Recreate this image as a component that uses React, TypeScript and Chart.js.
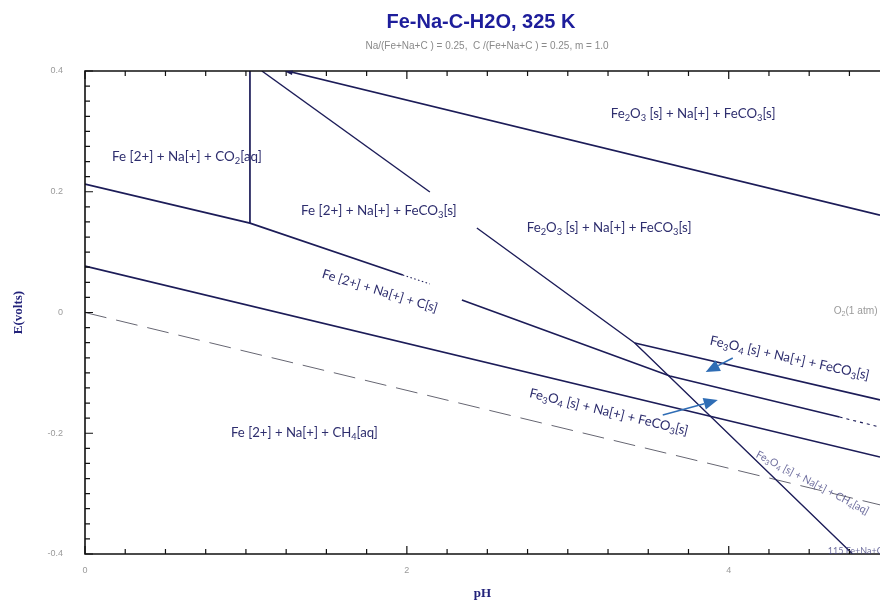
import React, { useEffect, useRef } from "react";
import { Chart, registerables } from "chart.js";

Chart.register(...registerables);

// ---- axes ----
const X_MIN = 0;
const X_MAX = 4.94;
const Y_MIN = -0.4;
const Y_MAX = 0.4;
const X_LABEL_TICKS = [0, 2, 4];
const Y_LABEL_TICKS = [-0.4, -0.2, 0, 0.2, 0.4];

// ---- boundary lines (pH, E in volts) ----
const fe2o3TopPH = [1.255, 4.94];
const fe2o3TopE = [0.4, 0.1613];
const co2VerticalPH = [1.025, 1.025];
const co2VerticalE = [0.4, 0.148];
const carbonPH = [0, 1.025, 1.975];
const carbonE = [0.2128, 0.148, 0.0621];
const carbonDotPH = [1.975, 2.143];
const carbonDotE = [0.0621, 0.0472];
const carbon2PH = [2.342, 3.634, 4.689];
const carbon2E = [0.0207, -0.1052, -0.1731];
const carbonTailPH = [4.689, 4.94];
const carbonTailE = [-0.1731, -0.1899];
const methanePH = [0, 4.94];
const methaneE = [0.077, -0.2394];
const ironUpperPH = [1.099, 2.143];
const ironUpperE = [0.4, 0.1996];
const ironLowerPH = [2.435, 3.416, 4.77];
const ironLowerE = [0.14, -0.0505, -0.4];
const magnetitePH = [3.416, 4.94];
const magnetiteE = [-0.0505, -0.1449];
const waterPH = [0, 4.94];
const waterE = [0, -0.3186];

// ---- region labels ----
const regionTexts = [
  "Fe [2+] + Na[+] + CO_2[aq]",
  "Fe [2+] + Na[+] + FeCO_3[s]",
  "Fe_2O_3 [s] + Na[+] + FeCO_3[s]",
  "Fe_2O_3 [s] + Na[+] + FeCO_3[s]",
  "Fe [2+] + Na[+] + C[s]",
  "Fe_3O_4 [s] + Na[+] + FeCO_3[s]",
  "Fe_3O_4 [s] + Na[+] + FeCO_3[s]",
  "Fe [2+] + Na[+] + CH_4[aq]",
];
const regionPH = [0.168, 1.342, 3.267, 2.745, 1.832, 4.379, 3.255, 0.907];
const regionE = [0.2576, 0.1681, 0.3288, 0.14, 0.0356, -0.0754, -0.1648, -0.1996];
const regionAngle = [0, 0, 0, 0, 17, 12.5, 13.5, 0];
const regionWidth = [150, 156, 165, 165, 120, 163, 163, 147];
const regionCentered = [false, false, false, false, true, true, true, false];

// ---- arrows (tail -> tip) ----
const arrowTailPH = [4.025, 3.59];
const arrowTailE = [-0.0754, -0.1698];
const arrowTipPH = [3.857, 3.932];
const arrowTipE = [-0.0985, -0.145];

const TITLE = "Fe-Na-C-H2O, 325 K";
const SUBTITLE = "Na/(Fe+Na+C ) = 0.25,  C /(Fe+Na+C ) = 0.25, m = 1.0";

const LINE_COLOR = "#1c1c58";
const LABEL_COLOR = "#2e2e6e";
const LABEL_FONT = "Lato, 'Open Sans', sans-serif";

const mk = (xs: number[], ys: number[]) => xs.map((x, i) => ({ x, y: ys[i] }));

function drawRich(
  ctx: CanvasRenderingContext2D,
  text: string,
  x: number,
  y: number,
  opts: { size: number; family: string; color: string; width?: number; angle?: number; center?: boolean }
) {
  const parts = text.split(/_(\d)/);
  const measure = (s: number) => {
    let w = 0;
    parts.forEach((p, i) => {
      ctx.font = `${i % 2 ? s * 0.7 : s}px ${opts.family}`;
      w += ctx.measureText(p).width;
    });
    return w;
  };
  let size = opts.size;
  if (opts.width) size = (size * opts.width) / measure(size);
  const w = measure(size);
  ctx.save();
  ctx.translate(x, y);
  ctx.rotate(((opts.angle || 0) * Math.PI) / 180);
  ctx.fillStyle = opts.color;
  ctx.textBaseline = "middle";
  ctx.textAlign = "left";
  let cx = opts.center ? -w / 2 : 0;
  parts.forEach((p, i) => {
    const sub = i % 2 === 1;
    ctx.font = `${sub ? size * 0.7 : size}px ${opts.family}`;
    ctx.fillText(p, cx, sub ? size * 0.3 : 0);
    cx += ctx.measureText(p).width;
  });
  ctx.restore();
}

const decorPlugin = {
  id: "decor",
  afterDraw(chart: any) {
    const ctx: CanvasRenderingContext2D = chart.ctx;
    const { left, right, top, bottom } = chart.chartArea;
    const xs = chart.scales.x;
    const ys = chart.scales.y;
    const px = (v: number) => xs.getPixelForValue(v);
    const py = (v: number) => ys.getPixelForValue(v);
    ctx.save();

    // title
    ctx.textAlign = "center";
    ctx.textBaseline = "middle";
    ctx.fillStyle = "#1d1d9b";
    ctx.font = "bold 20px Arial, 'Liberation Sans', sans-serif";
    ctx.fillText(TITLE, 481, 22);
    ctx.fillStyle = "#8a8a8a";
    ctx.font = "10px Arial, 'Liberation Sans', sans-serif";
    ctx.fillText(SUBTITLE, 487, 46);

    // frame
    ctx.strokeStyle = "#111";
    ctx.lineWidth = 1.6;
    ctx.beginPath();
    ctx.moveTo(right + 2, top);
    ctx.lineTo(left, top);
    ctx.lineTo(left, bottom);
    ctx.lineTo(right + 2, bottom);
    ctx.stroke();

    // inward ticks
    ctx.lineWidth = 1.2;
    ctx.beginPath();
    for (let i = 0; i <= 32; i++) {
      const y = py(Y_MIN + i * 0.025);
      const len = i % 8 === 0 ? 8 : 5;
      ctx.moveTo(left, y);
      ctx.lineTo(left + len, y);
    }
    for (let i = 0; X_MIN + i * 0.25 <= X_MAX; i++) {
      const x = px(X_MIN + i * 0.25);
      const len = i % 8 === 0 ? 8 : 5;
      ctx.moveTo(x, bottom);
      ctx.lineTo(x, bottom - len);
      ctx.moveTo(x, top);
      ctx.lineTo(x, top + len);
    }
    ctx.stroke();

    // small arrowhead at start of top line
    ctx.fillStyle = LINE_COLOR;
    const ax = px(fe2o3TopPH[0]);
    const ay = py(fe2o3TopE[0]);
    ctx.beginPath();
    ctx.moveTo(ax - 2, ay + 0.5);
    ctx.lineTo(ax + 6, ay - 0.5);
    ctx.lineTo(ax + 5, ay + 4);
    ctx.closePath();
    ctx.fill();

    // region labels
    regionTexts.forEach((t, i) => {
      drawRich(ctx, t, px(regionPH[i]), py(regionE[i]), {
        size: 11.5,
        family: LABEL_FONT,
        color: LABEL_COLOR,
        width: regionWidth[i],
        angle: regionAngle[i],
        center: regionCentered[i],
      });
    });

    // O2 label
    drawRich(ctx, "O_2(1 atm)", px(4.652), py(0.0025), {
      size: 8,
      family: "Arial, sans-serif",
      color: "#9a9a9a",
      width: 44,
    });

    // clipped label bottom right
    ctx.globalAlpha = 0.8;
    drawRich(ctx, "Fe_3O_4 [s] + Na[+] + CH_4[aq]", px(4.174), py(-0.234), {
      size: 10.5,
      family: LABEL_FONT,
      color: "#4a4a86",
      angle: 27.5,
    });
    drawRich(ctx, "115 Fe+Na+C", px(4.615), py(-0.395), {
      size: 9,
      family: LABEL_FONT,
      color: "#4a4a86",
    });
    ctx.globalAlpha = 1;

    // arrows
    ctx.strokeStyle = "#2f6db5";
    ctx.fillStyle = "#2f6db5";
    ctx.lineWidth = 1.5;
    for (let i = 0; i < arrowTailPH.length; i++) {
      const x0 = px(arrowTailPH[i]);
      const y0 = py(arrowTailE[i]);
      const x1 = px(arrowTipPH[i]);
      const y1 = py(arrowTipE[i]);
      const ang = Math.atan2(y1 - y0, x1 - x0);
      const hl = 14;
      const hw = 6;
      const bx = x1 - hl * Math.cos(ang);
      const by = y1 - hl * Math.sin(ang);
      ctx.beginPath();
      ctx.moveTo(x0, y0);
      ctx.lineTo(bx, by);
      ctx.stroke();
      ctx.beginPath();
      ctx.moveTo(x1, y1);
      ctx.lineTo(bx + hw * Math.sin(ang), by - hw * Math.cos(ang));
      ctx.lineTo(bx - hw * Math.sin(ang), by + hw * Math.cos(ang));
      ctx.closePath();
      ctx.fill();
    }
    ctx.restore();
  },
};

export default function App() {
  const ref = useRef<HTMLCanvasElement>(null);
  useEffect(() => {
    document.body.style.margin = "0";
    const solid = { borderColor: LINE_COLOR, borderWidth: 1.7, showLine: true, pointRadius: 0, fill: false };
    const chart = new Chart(ref.current as HTMLCanvasElement, {
      type: "scatter",
      data: {
        datasets: [
          { data: mk(fe2o3TopPH, fe2o3TopE), ...solid },
          { data: mk(co2VerticalPH, co2VerticalE), ...solid },
          { data: mk(carbonPH, carbonE), ...solid },
          { data: mk(carbonDotPH, carbonDotE), ...solid, borderWidth: 1.1, borderDash: [1.5, 2.5] },
          { data: mk(carbon2PH, carbon2E), ...solid },
          { data: mk(carbonTailPH, carbonTailE), ...solid, borderWidth: 1.1, borderDash: [3, 4] },
          { data: mk(methanePH, methaneE), ...solid },
          { data: mk(ironUpperPH, ironUpperE), ...solid, borderWidth: 1.4 },
          { data: mk(ironLowerPH, ironLowerE), ...solid, borderWidth: 1.4 },
          { data: mk(magnetitePH, magnetiteE), ...solid },
          { data: mk(waterPH, waterE), ...solid, borderColor: "#666672", borderWidth: 1, borderDash: [22, 10] },
        ] as any,
      },
      options: {
        animation: false,
        responsive: false,
        layout: { padding: { top: 71, right: 0, left: 0, bottom: 0 } },
        plugins: { legend: { display: false }, tooltip: { enabled: false } },
        scales: {
          x: {
            type: "linear",
            min: X_MIN,
            max: X_MAX,
            afterFit: (s: any) => {
              s.height = 48;
            },
            grid: { display: false },
            border: { display: false },
            ticks: {
              stepSize: 2,
              includeBounds: false,
              color: "#9a9a9a",
              font: { size: 9, family: "Arial, sans-serif" },
              padding: 3,
              maxRotation: 0,
              callback: (v: any) => (X_LABEL_TICKS.some((t) => Math.abs(t - v) < 1e-6) ? String(Math.round(v)) : ""),
            },
            title: {
              display: true,
              text: "pH",
              color: "#22227a",
              font: { family: "'Liberation Serif', 'DejaVu Serif', serif", size: 13, weight: "bold" },
              padding: { top: 0, bottom: 1 },
            },
          },
          y: {
            type: "linear",
            min: Y_MIN,
            max: Y_MAX,
            afterFit: (s: any) => {
              s.width = 85;
            },
            grid: { display: false },
            border: { display: false },
            ticks: {
              stepSize: 0.2,
              color: "#9a9a9a",
              font: { size: 9, family: "Arial, sans-serif" },
              padding: 14,
              callback: (v: any) => {
                if (!Y_LABEL_TICKS.some((t) => Math.abs(t - v) < 1e-6)) return "";
                const r = Math.round(v * 10) / 10;
                return String(r === 0 ? 0 : r);
              },
            },
            title: {
              display: true,
              text: "E(volts)",
              color: "#22227a",
              font: { family: "'Liberation Serif', 'DejaVu Serif', serif", size: 13, weight: "bold" },
              padding: { top: 11, bottom: 0 },
            },
          },
        },
      } as any,
      plugins: [decorPlugin],
    });
    return () => chart.destroy();
  }, []);
  return (
    <div style={{ width: 880, height: 602 }}>
      <canvas ref={ref} width={880} height={602} style={{ display: "block" }} />
    </div>
  );
}
